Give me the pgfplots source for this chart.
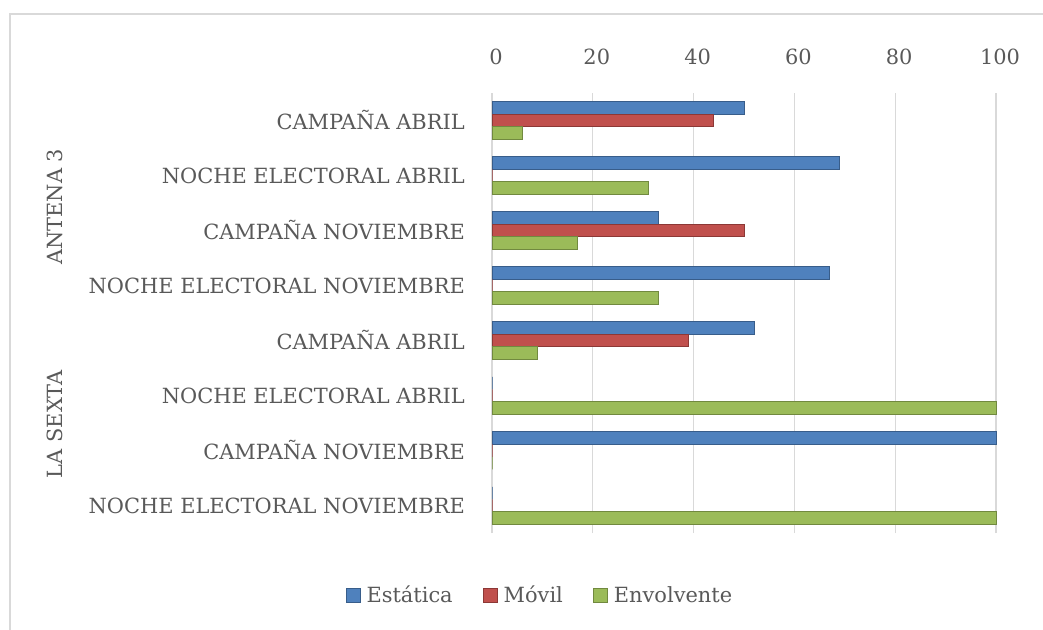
\documentclass[border=0pt]{standalone}
\usepackage{fontspec}
\setmainfont{DejaVu Serif}
\usepackage{pgfplots}
\usepackage{pgfplotstable}
\pgfplotsset{compat=1.18}
\definecolor{cblue}{HTML}{4F81BD}
\definecolor{cred}{HTML}{C0504D}
\definecolor{cgreen}{HTML}{9BBB59}
\definecolor{dblue}{HTML}{385D8A}
\definecolor{dred}{HTML}{8C3836}
\definecolor{dgreen}{HTML}{71893F}
\definecolor{txtgray}{HTML}{595959}
\definecolor{gridgray}{HTML}{D9D9D9}
\pgfplotstableread{
y est mov env
7 50 44 6
6 69 0 31
5 33 50 17
4 67 0 33
3 52 39 9
2 0 0 100
1 100 0 0
0 0 0 100
}\datatable
\newcommand{\lblfont}{\fontsize{21}{24}\selectfont}
\begin{document}
\begin{tikzpicture}
\useasboundingbox (0,0) rectangle (1043bp,-630bp);
\draw[gridgray, line width=1.5bp] (10bp,-630bp) -- (10bp,-14bp) -- (1043bp,-14bp);
\begin{axis}[
  at={(492bp,-533bp)}, anchor=south west,
  scale only axis, width=504bp, height=440bp,
  xbar, bar width=12.5bp,
  xmin=0, xmax=100, ymin=-0.5, ymax=7.5,
  xtick={0,20,...,100}, ytick={0,...,7},
  yticklabels={NOCHE ELECTORAL NOVIEMBRE, CAMPAÑA NOVIEMBRE, NOCHE ELECTORAL ABRIL, CAMPAÑA ABRIL, NOCHE ELECTORAL NOVIEMBRE, CAMPAÑA NOVIEMBRE, NOCHE ELECTORAL ABRIL, CAMPAÑA ABRIL},
  xticklabel pos=upper,
  axis line style={draw=none},
  major tick length=0pt,
  xmajorgrids, grid style={draw=gridgray, line width=1.2bp},
  /pgf/number format/assume math mode=true,
  tick label style={text=txtgray, font=\lblfont},
  yticklabel style={anchor=east, inner sep=0pt, xshift=-27bp},
  xticklabel style={anchor=south, inner sep=0pt, yshift=28bp, xshift=4bp},
  legend columns=3,
  legend style={at={(0.095,-0.141)}, anchor=center, draw=none, font=\lblfont, text=txtgray,
    /tikz/every even column/.append style={column sep=28bp}},
  legend image code/.code={\fill[#1] (0bp,-7bp) rectangle (14bp,7bp); \path (18bp,0bp);},
  clip=false,
]
\addplot[fill=cblue, draw=dblue, line width=1bp, bar shift=12.5bp] table[x=est, y=y] {\datatable};
\addplot[fill=cred, draw=dred, line width=1bp, bar shift=0bp] table[x=mov, y=y] {\datatable};
\addplot[fill=cgreen, draw=dgreen, line width=1bp, bar shift=-12.5bp] table[x=env, y=y] {\datatable};
\legend{Estática, Móvil, Envolvente}
\node[rotate=90, text=txtgray, font=\lblfont] at (axis cs:-86.7,5.43) {ANTENA 3};
\node[rotate=90, text=txtgray, font=\lblfont] at (axis cs:-86.7,1.48) {LA SEXTA};
\end{axis}
\end{tikzpicture}
\end{document}
